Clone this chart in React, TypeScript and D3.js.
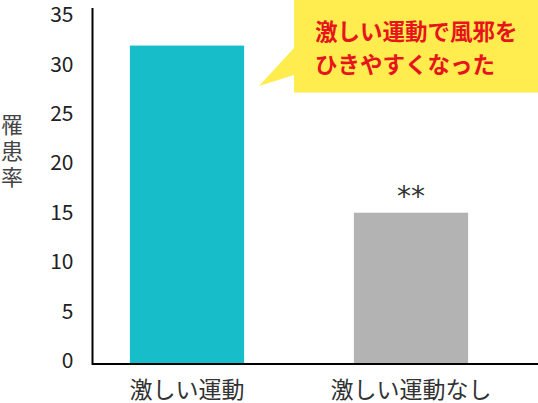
import { useEffect, useRef } from 'react'
import { select, scaleLinear, scaleBand, axisLeft } from 'd3'

const categories = ['激しい運動', '激しい運動なし']
const rates = [32.2, 15.3]
const marks = ['', '**']
const barColors = ['#17bdc8', '#b3b3b3']
const yTicks = [0, 5, 10, 15, 20, 25, 30, 35]
const yLabel = ['罹', '患', '率']
const calloutLines = ['激しい運動で風邪を', 'ひきやすくなった']

const W = 538
const H = 403
const FONT = '"Noto Sans CJK JP", "Noto Sans", sans-serif'

export default function App() {
  const svgRef = useRef<SVGSVGElement | null>(null)

  useEffect(() => {
    const svg = select(svgRef.current)
    svg.selectAll('*').remove()

    const x = scaleBand<string>()
      .domain(categories)
      .range([75, 523])
      .paddingInner(0.49)
      .paddingOuter(0.245)

    const y = scaleLinear().domain([0, 36]).range([364, 8])

    // bars
    svg
      .selectAll('.bar')
      .data(rates)
      .join('rect')
      .attr('class', 'bar')
      .attr('x', (_, i) => x(categories[i]) as number)
      .attr('y', (d) => y(d))
      .attr('width', x.bandwidth())
      .attr('height', (d) => y(0) - y(d))
      .attr('fill', (_, i) => barColors[i])

    // significance marks
    svg
      .selectAll('.mark')
      .data(marks)
      .join('text')
      .attr('class', 'mark')
      .attr('x', (_, i) => (x(categories[i]) as number) + x.bandwidth() / 2)
      .attr('y', (_, i) => y(rates[i]) - 7)
      .attr('text-anchor', 'middle')
      .attr('font-family', '"DejaVu Sans", sans-serif')
      .attr('font-size', 28)
      .attr('fill', '#333')
      .text((d) => d)

    // y axis tick labels
    const yAxis = axisLeft(y).tickValues(yTicks).tickSize(0).tickPadding(19)
    const gy = svg.append('g').attr('transform', 'translate(92.5,-3)').call(yAxis as any)
    gy.select('.domain').remove()
    gy.selectAll('text')
      .attr('font-family', FONT)
      .attr('font-size', 21)
      .attr('fill', '#222')

    // axis lines
    svg
      .append('path')
      .attr('d', `M92.5,8V364H${W}`)
      .attr('fill', 'none')
      .attr('stroke', '#000')
      .attr('stroke-width', 2)

    // category labels
    svg
      .selectAll('.cat')
      .data(categories)
      .join('text')
      .attr('class', 'cat')
      .attr('x', (d) => (x(d) as number) + x.bandwidth() / 2)
      .attr('y', 398)
      .attr('text-anchor', 'middle')
      .attr('font-family', FONT)
      .attr('font-size', 23)
      .attr('fill', '#333')
      .text((d) => d)

    // y label, stacked vertically
    svg
      .selectAll('.ylab')
      .data(yLabel)
      .join('text')
      .attr('class', 'ylab')
      .attr('x', 12)
      .attr('y', (_, i) => 133 + i * 26)
      .attr('text-anchor', 'middle')
      .attr('font-family', FONT)
      .attr('font-size', 22)
      .attr('fill', '#444')
      .text((d) => d)

    // callout
    const callout = svg.append('g')
    callout
      .append('path')
      .attr('d', `M294,-2H${W + 2}V92.5H294V75L259,86L294,48Z`)
      .attr('fill', '#ffec4f')
    callout
      .selectAll('text')
      .data(calloutLines)
      .join('text')
      .attr('x', 315)
      .attr('y', (_, i) => 40 + i * 33)
      .attr('font-family', FONT)
      .attr('font-size', 22.5)
      .attr('font-weight', 'bold')
      .attr('fill', '#e8141c')
      .text((d) => d)
  }, [])

  return (
    <svg
      ref={svgRef}
      width={W}
      height={H}
      style={{ position: 'absolute', left: 0, top: 0, background: '#fff' }}
    />
  )
}
